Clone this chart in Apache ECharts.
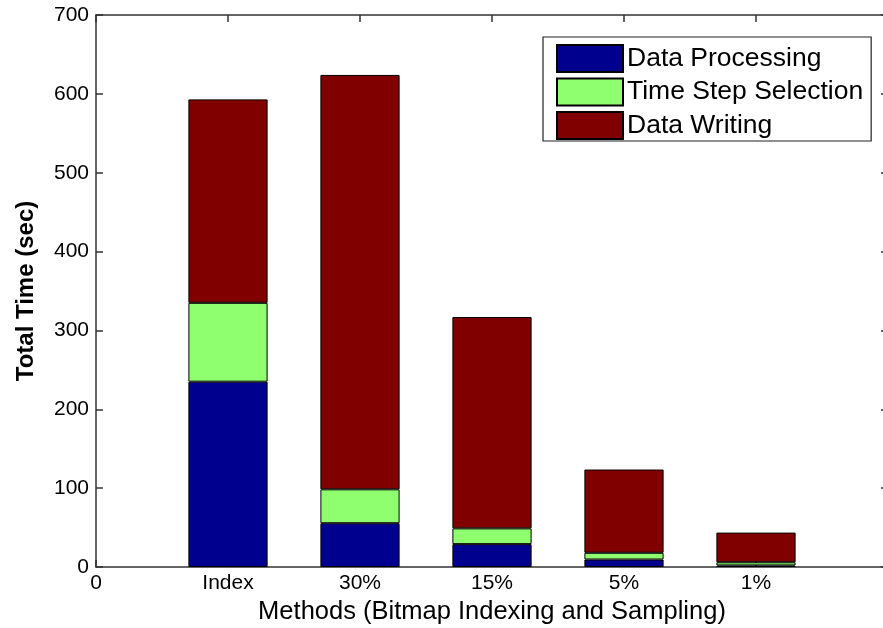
<!DOCTYPE html>
<html>
<head>
<meta charset="utf-8">
<script src="https://cdn.jsdelivr.net/npm/echarts@6/dist/echarts.min.js"></script>
<style>html,body{margin:0;padding:0;background:#fff;}#c{width:883px;height:628px;}</style>
</head>
<body>
<div id="c"></div>
<script>
const categories = ['Index', '30%', '15%', '5%', '1%'];
const dataProcessing = [235, 55.5, 29, 9.5, 2];
const timeStepSelection = [100, 43, 20, 8.5, 4];
const dataWriting = [258, 525.5, 268, 105.6, 37.6];
const yTicks = [0, 100, 200, 300, 400, 500, 600, 700];

const axisCats = ['0'].concat(categories, ['']);
const pad = arr => [null].concat(arr, [null]);
const FONT = '"Liberation Sans", Arial, sans-serif';
const chart = echarts.init(document.getElementById('c'), null, {renderer: 'canvas'});

function barSeries(name, values, color) {
  return {
    name: name, type: 'bar', stack: 'total', barWidth: '60%',
    xAxisIndex: 0, yAxisIndex: 0,
    data: pad(values),
    itemStyle: {color: color, borderColor: '#000', borderWidth: 1},
    emphasis: {disabled: true}
  };
}

const axisLineStyle = {color: '#333', width: 1.5};
chart.setOption({
  animation: false,
  backgroundColor: '#fff',
  textStyle: {fontFamily: FONT},
  grid: {left: 96, top: 15, width: 792, bottom: 61, containLabel: false, outerBoundsMode: 'none'},
  legend: {
    orient: 'vertical', left: 543, top: 37,
    padding: [7, 8, 1, 13],
    itemWidth: 66, itemHeight: 27, itemGap: 4.5,
    icon: 'rect',
    borderColor: '#222', borderWidth: 1.2,
    backgroundColor: '#fff',
    textStyle: {fontFamily: FONT, fontSize: 26.5, lineHeight: 27, color: '#000', padding: [0, 0, 0, -1]},
    data: ['Data Processing', 'Time Step Selection', 'Data Writing']
  },
  xAxis: [{
    type: 'category', data: axisCats, boundaryGap: false, position: 'bottom',
    axisLine: {show: true, lineStyle: axisLineStyle},
    axisTick: {show: true, inside: true, length: 7, alignWithLabel: true, lineStyle: axisLineStyle},
    axisLabel: {show: true, interval: 0, margin: 6, fontSize: 21, color: '#000', fontFamily: FONT},
    splitLine: {show: false},
    name: 'Methods (Bitmap Indexing and Sampling)', nameLocation: 'middle', nameGap: 30,
    nameTextStyle: {fontSize: 25.5, color: '#000', fontFamily: FONT}
  }, {
    type: 'category', data: axisCats, boundaryGap: false, position: 'top',
    axisLine: {show: true, onZero: false, lineStyle: axisLineStyle},
    axisTick: {show: true, inside: true, length: 7, alignWithLabel: true, lineStyle: axisLineStyle},
    axisLabel: {show: false}, splitLine: {show: false}
  }],
  yAxis: [{
    type: 'value', min: 0, max: 700, interval: 100, position: 'left',
    axisLine: {show: true, lineStyle: axisLineStyle},
    axisTick: {show: true, inside: true, length: 7, lineStyle: axisLineStyle},
    axisLabel: {show: true, margin: 7, fontSize: 21, color: '#000', fontFamily: FONT,
      formatter: v => (yTicks.indexOf(v) >= 0 ? String(v) : '')},
    splitLine: {show: false},
    name: 'Total Time (sec)', nameLocation: 'middle', nameGap: 58, nameRotate: 90,
    nameTextStyle: {fontSize: 24, fontWeight: 'bold', color: '#000', fontFamily: FONT}
  }, {
    type: 'value', min: 0, max: 700, interval: 100, position: 'right',
    axisLine: {show: true, lineStyle: axisLineStyle},
    axisTick: {show: true, inside: true, length: 7, lineStyle: axisLineStyle},
    axisLabel: {show: false}, splitLine: {show: false}
  }],
  series: [
    barSeries('Data Processing', dataProcessing, '#00008f'),
    barSeries('Time Step Selection', timeStepSelection, '#8fff70'),
    barSeries('Data Writing', dataWriting, '#800000')
  ]
});
</script>
</body>
</html>
